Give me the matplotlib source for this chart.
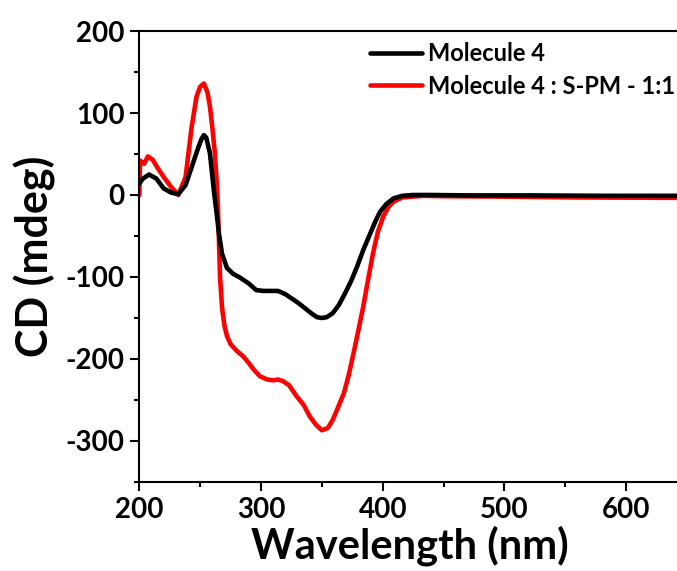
import matplotlib
matplotlib.use("Agg")
import matplotlib.pyplot as plt
from matplotlib.ticker import MultipleLocator

plt.rcParams['font.family'] = ['Lato', 'DejaVu Sans']
plt.rcParams['font.weight'] = 'bold'
plt.rcParams['axes.unicode_minus'] = False

# CD spectrum of molecule 4 alone (wavelength nm, CD mdeg)
wl_m4 = [200, 203, 208, 214, 220, 226, 232, 238, 243, 248, 251, 253, 255, 258, 259.5, 261.5,
         263.5, 265.5, 268, 272, 277, 283, 290, 296, 302, 308, 314, 320, 325, 330, 336,
         342, 346, 350, 354, 359, 364, 369, 374, 379, 384, 390, 394, 398, 403, 409, 416,
         425, 440, 470, 520, 580, 645]
cd_m4 = [14, 20, 25, 20, 8, 3, 1, 12, 34, 56, 68, 73, 70, 51, 30, 2,
         -22, -48, -72, -89, -96, -101, -108, -116, -117, -117, -117, -121, -126, -131, -138,
         -145, -149, -150, -149, -144, -134, -120, -105, -87, -67, -46, -32, -20, -11, -4, -1,
         0, 0, -0.5, -0.5, -1, -1]

# molecule 4 with S-PM, 1:1
wl_mix = [200, 200.6, 202, 204, 207, 211, 215, 220, 226, 232, 238, 243, 247, 250, 253, 256,
          258, 260, 262, 263.2, 264.5, 266.3, 268, 270, 272, 275, 280, 285.5, 290, 294, 299,
          305, 310, 314, 318, 323, 329, 335, 340, 345, 350, 355, 359, 363, 368, 372, 376,
          380, 384, 388, 392, 396, 400.5, 405, 409, 416, 425, 433, 450, 500, 560, 645]
cd_mix = [0, 42, 40, 38, 47, 43, 33, 22, 10, 0, 22, 83, 120, 132, 136, 125,
          108, 82, 52, 25, -10, -100, -138, -160, -172, -182, -190, -197, -205, -213, -221,
          -225, -226, -225, -227, -232, -245, -256, -270, -280, -287, -284, -274, -260, -242, -220, -193,
          -165, -136, -103, -71, -45, -26, -14, -8, -3, -2, -1, -1.5, -2, -3, -3.5]

fig = plt.figure(figsize=(6.77, 5.71), dpi=100)
ax = fig.add_axes([0.2058, 0.1559, 0.80, 0.7898])

ax.plot(wl_m4, cd_m4, color='black', lw=3.3, label='Molecule 4', zorder=3,
        solid_joinstyle='round', solid_capstyle='round')
ax.plot(wl_mix, cd_mix, color='#ff0000', lw=3.3, label='Molecule 4 : S-PM - 1:1', zorder=2,
        solid_joinstyle='round', solid_capstyle='round')

ax.set_xlim(200, 645)
ax.set_ylim(-350, 200)
ax.xaxis.set_major_locator(MultipleLocator(100))
ax.xaxis.set_minor_locator(MultipleLocator(50))
ax.yaxis.set_major_locator(MultipleLocator(100))
ax.yaxis.set_minor_locator(MultipleLocator(50))
ax.tick_params(which='major', length=6.5, width=1.5, direction='out', labelsize=20, pad=4)
ax.tick_params(which='minor', length=3.5, width=1.5, direction='out')
for lab in ax.get_xticklabels() + ax.get_yticklabels():
    lab.set_fontweight('bold')
for s in ax.spines.values():
    s.set_linewidth(1.5)

ax.set_xlabel('Wavelength (nm)', fontsize=30, fontweight='bold', labelpad=2)
ax.set_ylabel('CD (mdeg)', fontsize=31, fontweight='bold', labelpad=7)

ax.legend(loc='upper left', bbox_to_anchor=(0.426, 0.975), frameon=False,
          prop={'size': 17, 'weight': 'bold'}, handlelength=2.2, handletextpad=0.25,
          labelspacing=0.4, borderpad=0, borderaxespad=0)

fig.savefig('out.png', dpi=100)
